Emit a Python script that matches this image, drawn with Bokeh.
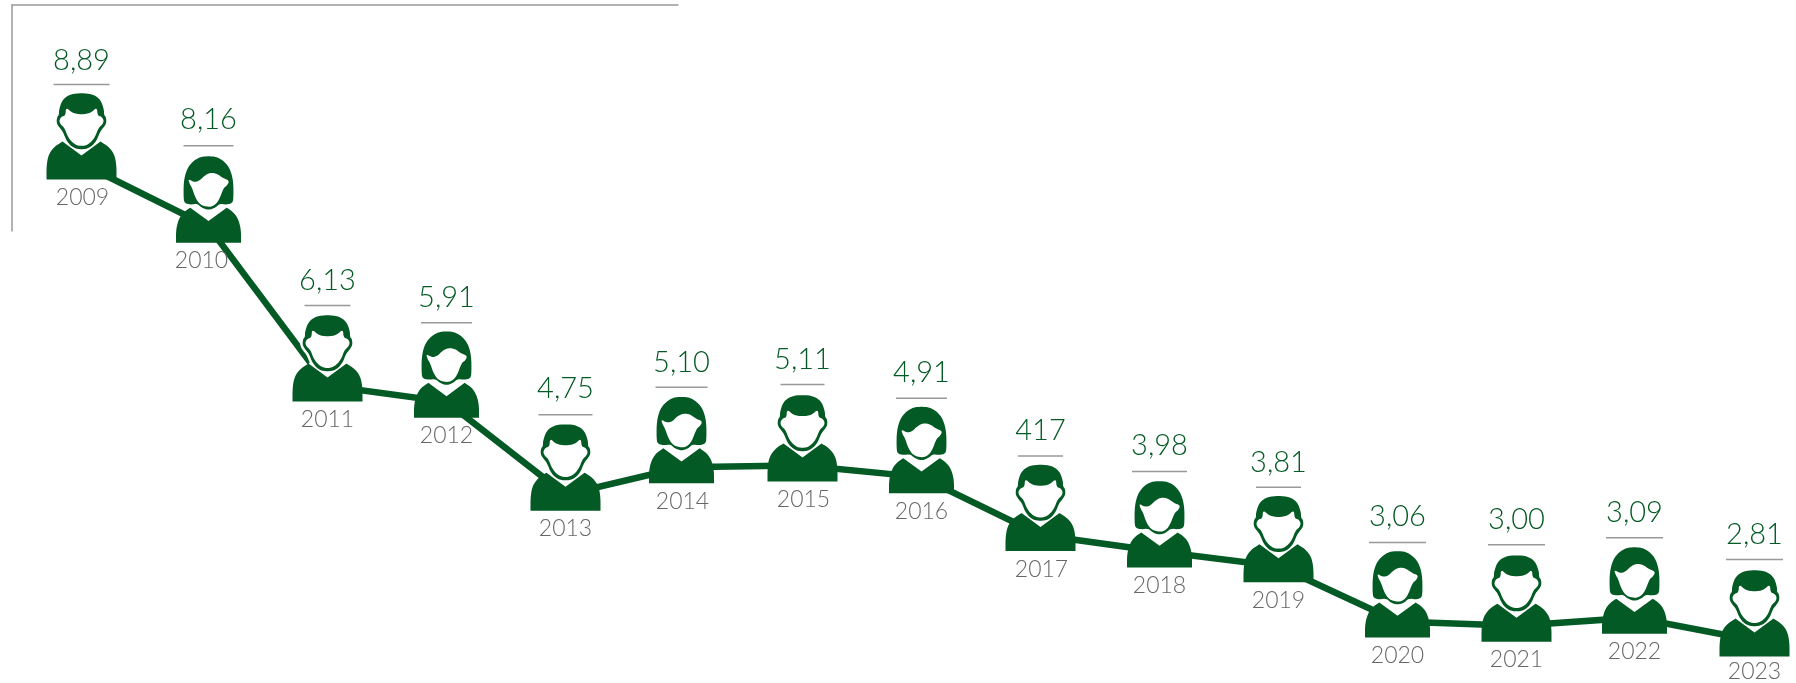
from bokeh.plotting import figure
from bokeh.models import Range1d, ColumnDataSource
from bokeh.core.properties import value
from bokeh.embed import file_html
from bokeh.resources import INLINE

# ---- data
years = [2009, 2010, 2011, 2012, 2013, 2014, 2015, 2016, 2017, 2018, 2019, 2020, 2021, 2022, 2023]
values = [8.89, 8.16, 6.13, 5.91, 4.75, 5.10, 5.11, 4.91, 4.17, 3.98, 3.81, 3.06, 3.00, 3.09, 2.81]
value_labels = ["8,89", "8,16", "6,13", "5,91", "4,75", "5,10", "5,11", "4,91", "417", "3,98", "3,81", "3,06", "3,00", "3,09", "2,81"]
year_labels = [str(y) for y in years]
genders = ["m", "f"] * 7 + ["m"]

# ---- layout (pixels)
W, H = 1796, 683
PX_PER_YEAR = 118.8
PX_PER_UNIT = 78.3
x_nudge = [-8.2, 0, 0.2, 0.4, 0.6, -2.2, 0, 0.2, 0.4, 0.6, 0.8, 1, 1.2, 0.4, 1.6]
y_nudge = [0, 6, 6, 5, 7, 7, 6, 2, 2, 3.5, 5, 1.5, 1, 0, 1]
rule_rise = [95, 97, 96, 95, 96, 96, 97, 95, 95, 96, 95, 95, 97, 96, 97]
text_rise = [109, 113, 111, 110, 112, 111, 112, 111, 111, 112, 110, 111, 112, 111, 112]
rule_width = [56, 50, 46, 51, 54, 52, 44, 51, 45, 55, 45, 57, 57, 57, 57]
year_shift = [1, -7, 0, 0, 0, 1, 1, 0, 1, 0, 0, 0, 0, 0, 0]
year_drop = [25, 25, 25, 25, 25, 25, 25, 25, 25, 25, 25, 25, 25, 25, 22]
VALUE_BASE_FIX = 11
YEAR_BASE_FIX = 8

GREEN = "#045A24"
GREY_TXT = "#666666"
GREY_RULE = "#999999"
VALUE_FONT = "Lato Light"
YEAR_FONT = "Lato Light"

x0 = 2010 - 208 / PX_PER_YEAR
y1 = 8.89 + 179 / PX_PER_UNIT
p = figure(width=W, height=H, toolbar_location=None, output_backend="svg", min_border=0,
           outline_line_color=None, background_fill_color="white",
           x_range=Range1d(x0, x0 + W / PX_PER_YEAR),
           y_range=Range1d(y1 - H / PX_PER_UNIT, y1))
p.axis.visible = False
p.grid.visible = False
p.styles = {"position": "fixed", "left": "0", "top": "0"}


def X(year, dx=0.0):
    return year + dx / PX_PER_YEAR


def Y(val, dy=0.0):
    return val + dy / PX_PER_UNIT


def chaikin(pts, n=2, closed=False):
    for _ in range(n):
        out = []
        m = len(pts)
        for i in range(m if closed else m - 1):
            a, b = pts[i], pts[(i + 1) % m]
            out.append((0.75 * a[0] + 0.25 * b[0], 0.75 * a[1] + 0.25 * b[1]))
            out.append((0.25 * a[0] + 0.75 * b[0], 0.25 * a[1] + 0.75 * b[1]))
        pts = ([pts[0]] + out + [pts[-1]]) if not closed else out
    return pts


def mirror(half):
    return half + [(-a, b) for a, b in reversed(half) if a != 0]


def make_body(sh, v):
    left = chaikin(sh)
    return left + [(0, v)] + [(-a, b) for a, b in reversed(left)]


MAN = dict(
    body=make_body([(-35, 0), (-35, 14), (-33, 25), (-27, 33), (-19, 38)], 24),
    head=chaikin(mirror([(0, 86.5), (-11, 85.5), (-19, 80), (-22.5, 70), (-22.5, 64.5), (-24.5, 62.5), (-25, 56.3),
                         (-21.7, 51.5), (-18.7, 48), (-14.5, 37.5), (-7.7, 31.3), (0, 30)]), 2, True),
    face=chaikin(mirror([(0, 65), (-9.3, 66.5), (-15.5, 72.5), (-16, 64), (-20, 63), (-22.4, 59), (-21, 55),
                         (-17, 51.7), (-13.3, 41.7), (-7, 35), (0, 33.2)]), 2, True),
    neck=[(-18.7, 37.3), (0, 24), (18.7, 37.3), (12, 46), (-12, 46)],
)
WOMAN = dict(
    body=make_body([(-32.5, 0), (-32.5, 13), (-30, 23), (-25.5, 30), (-18.2, 35)], 21.7),
    head=chaikin(mirror([(0, 86.5), (-8, 85.8), (-15.5, 81.5), (-21.5, 74), (-24.8, 62), (-25, 45), (-24, 39.5),
                         (-18, 38), (-11, 39), (-7, 35), (0, 32.5)]), 2, True),
    face=chaikin([(-20.5, 64), (-14.8, 60.5), (-9.2, 61.7), (-4.2, 67), (1.8, 70), (8.5, 69), (14.5, 64.5),
                  (21, 62), (18.5, 57), (15.2, 55), (10.2, 41.7), (5.2, 36.7), (0, 35.6), (-8.2, 37.7),
                  (-13.2, 45), (-16.5, 55), (-18.8, 58.5)], 2, True),
    neck=[(-18.2, 34.3), (0, 21.7), (17.8, 34.3), (12, 44), (-12, 44)],
)

# icon anchors
cx = [X(y, n) for y, n in zip(years, x_nudge)]
bottoms = [Y(v, -n) for v, n in zip(values, y_nudge)]


def layer(part):
    xs, ys = [], []
    for c, b, g in zip(cx, bottoms, genders):
        shape = (MAN if g == "m" else WOMAN)[part]
        xs.append([c + a / PX_PER_YEAR for a, _ in shape])
        ys.append([b + d / PX_PER_UNIT for _, d in shape])
    return xs, ys


# frame
p.segment(x0=[X(x0, 11), X(x0, 11.5)], y0=[Y(y1, -4.5), Y(y1, -4)],
          x1=[X(x0, 678), X(x0, 11.5)], y1=[Y(y1, -4.5), Y(y1, -231)],
          line_color=GREY_RULE, line_width=1.5)

# trend line
p.line(cx, [Y(b, 16) for b in bottoms], line_color=GREEN, line_width=6.5, line_join="miter")

# icons
xs, ys = layer("head")
p.patches(xs, ys, fill_color="white", line_color="white", line_width=5)
xs, ys = layer("neck")
p.patches(xs, ys, fill_color="white", line_color="white", line_width=1)
xs, ys = layer("body")
p.patches(xs, ys, fill_color=GREEN, line_color=None)
xs, ys = layer("head")
p.patches(xs, ys, fill_color=GREEN, line_color=None)
xs, ys = layer("face")
p.patches(xs, ys, fill_color="white", line_color=None)

# rules above the icons
p.segment(x0=[X(c, -w / 2) for c, w in zip(cx, rule_width)],
          x1=[X(c, w / 2) for c, w in zip(cx, rule_width)],
          y0=[Y(b, r) for b, r in zip(bottoms, rule_rise)],
          y1=[Y(b, r) for b, r in zip(bottoms, rule_rise)],
          line_color=GREY_RULE, line_width=1.5)

# labels
vs = ColumnDataSource(dict(x=cx, y=[Y(b, r + VALUE_BASE_FIX) for b, r in zip(bottoms, text_rise)], t=value_labels))
p.text("x", "y", "t", source=vs, text_color=GREEN, text_align="center", text_baseline="alphabetic",
       text_font=value(VALUE_FONT), text_font_size="29px")
ys_src = ColumnDataSource(dict(x=[X(c, s) for c, s in zip(cx, year_shift)],
                               y=[Y(b, -d + YEAR_BASE_FIX) for b, d in zip(bottoms, year_drop)], t=year_labels))
p.text("x", "y", "t", source=ys_src, text_color=GREY_TXT, text_align="center", text_baseline="alphabetic",
       text_font=value(YEAR_FONT), text_font_size="23px")

open("out.html", "w").write(file_html(p, INLINE))
